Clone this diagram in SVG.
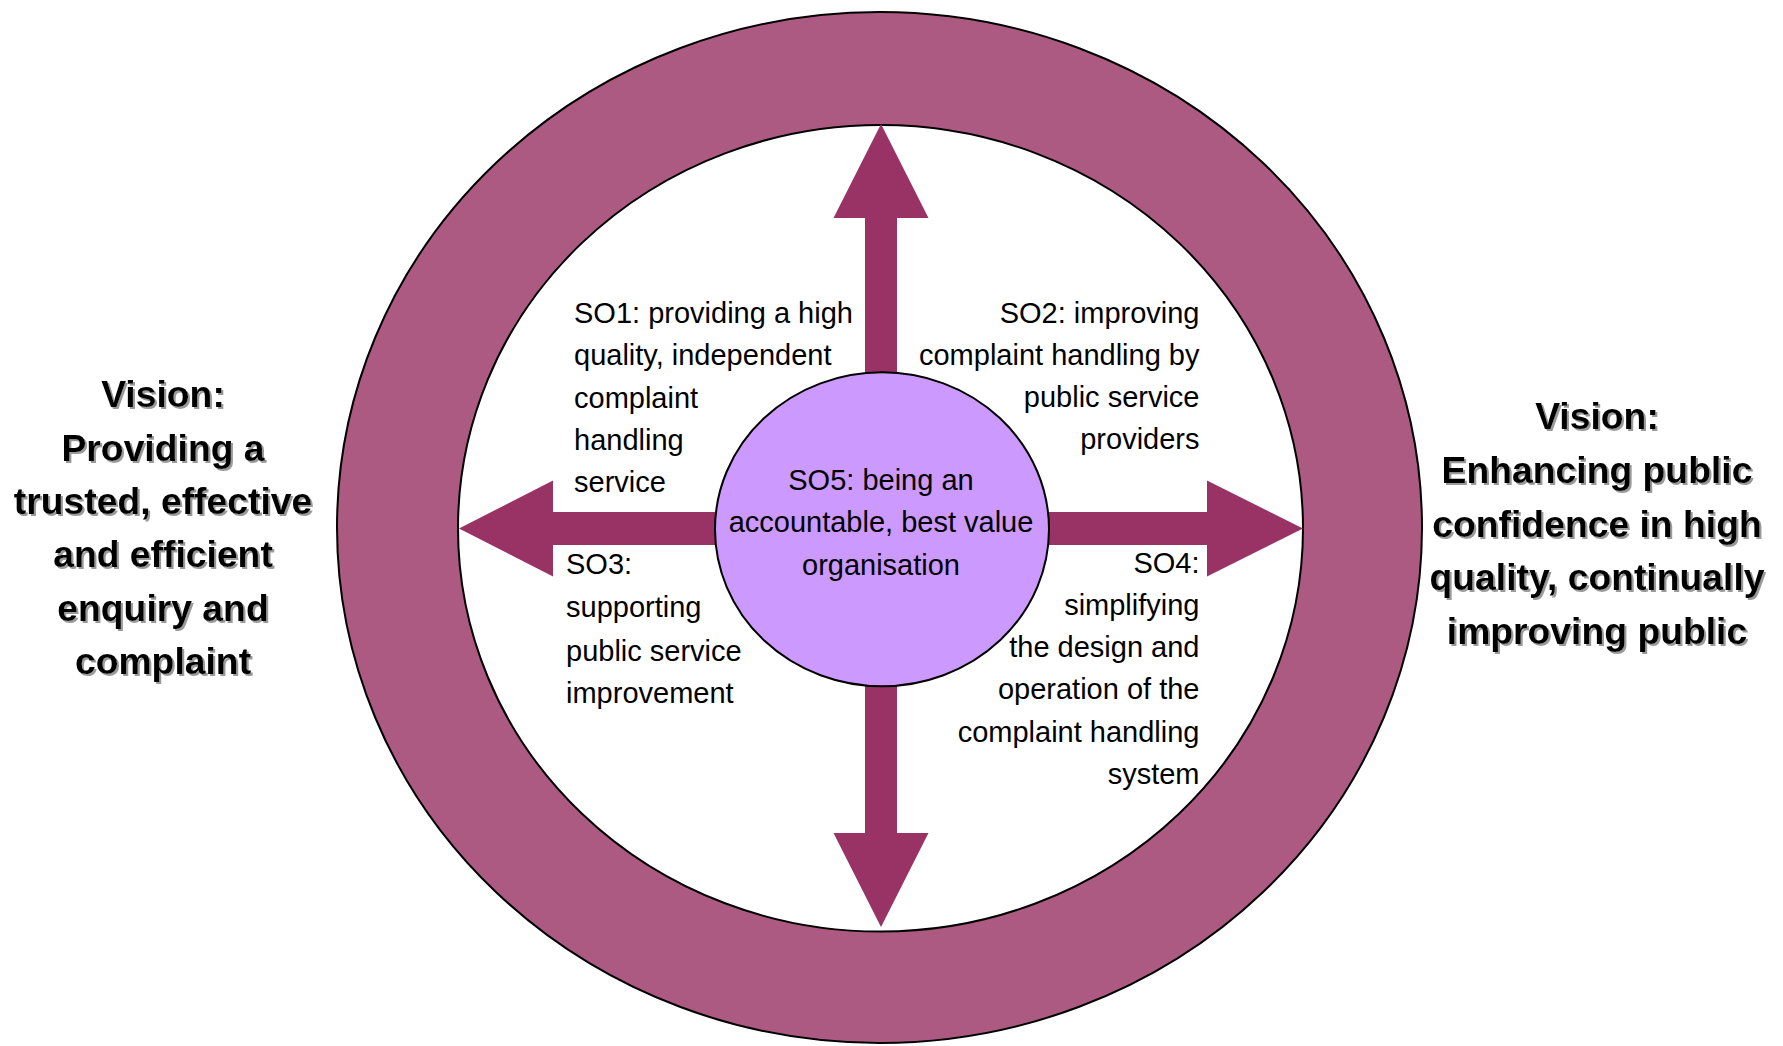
<svg xmlns="http://www.w3.org/2000/svg" width="1783" height="1046" viewBox="0 0 1783 1046">
  <style>
    .so { font-family: "Liberation Sans", Arial, sans-serif; font-size: 29px; fill: #000; }
    .mid { text-anchor: middle; }
    .end { text-anchor: end; }
    .vision { font-family: "Liberation Sans", Arial, sans-serif; font-size: 37.3px; font-weight: bold; fill: #000; text-anchor: middle; }
    .ring { fill: #AD5A82; stroke: #000; stroke-width: 2; }
    .inner { fill: #FFFFFF; stroke: #000; stroke-width: 2; }
    .arrow { fill: #993366; stroke: none; }
    .core { fill: #CC99FF; stroke: #000; stroke-width: 2; }
  </style>
  <defs>
    <filter id="shadow" x="-10%" y="-10%" width="120%" height="130%">
      <feDropShadow dx="2" dy="2" stdDeviation="0.6" flood-color="#9a9a9a" flood-opacity="1"/>
    </filter>
  </defs>

  <rect width="1783" height="1046" fill="#FFFFFF"/>

  <!-- outer ring with white interior -->
  <g id="ring">
    <ellipse class="ring" cx="879.5" cy="527.5" rx="542.5" ry="515.5"/>
    <ellipse class="inner" cx="880.5" cy="528.3" rx="422.5" ry="403.3"/>
  </g>

  <!-- double-headed arrows radiating from the centre -->
  <g id="connectors">
    <polygon class="arrow" points="881,124 928.5,218 897,218 897,833 928.5,833 881,927 833.5,833 865,833 865,218 833.5,218"/>
    <polygon class="arrow" points="459,528.5 553,480.5 553,512 1207,512 1207,480.5 1303,528.5 1207,576.5 1207,545 553,545 553,576.5"/>
  </g>

  <!-- centre objective -->
  <g id="so5">
    <ellipse class="core" cx="882" cy="529.3" rx="167" ry="157"/>
    <text class="so mid" x="881" y="490">SO5: being an</text>
    <text class="so mid" x="881" y="532">accountable, best value</text>
    <text class="so mid" x="881" y="575">organisation</text>
  </g>

  <g id="so1">
    <text class="so" x="574" y="323">SO1: providing a high</text>
    <text class="so" x="574" y="365">quality, independent</text>
    <text class="so" x="574" y="408">complaint</text>
    <text class="so" x="574" y="450">handling</text>
    <text class="so" x="574" y="492">service</text>
  </g>

  <g id="so2">
    <text class="so end" x="1199.5" y="323">SO2: improving</text>
    <text class="so end" x="1199.5" y="365">complaint handling by</text>
    <text class="so end" x="1199.5" y="407">public service</text>
    <text class="so end" x="1199.5" y="449">providers</text>
  </g>

  <g id="so3">
    <text class="so" x="566" y="574">SO3:</text>
    <text class="so" x="566" y="617">supporting</text>
    <text class="so" x="566" y="661">public service</text>
    <text class="so" x="566" y="703">improvement</text>
  </g>

  <g id="so4">
    <text class="so end" x="1199.5" y="573">SO4:</text>
    <text class="so end" x="1199.5" y="615">simplifying</text>
    <text class="so end" x="1199.5" y="657">the design and</text>
    <text class="so end" x="1199.5" y="699">operation of the</text>
    <text class="so end" x="1199.5" y="742">complaint handling</text>
    <text class="so end" x="1199.5" y="784">system</text>
  </g>

  <!-- vision statements either side of the ring -->
  <g id="vision-left" filter="url(#shadow)">
    <text class="vision" x="163" y="407">Vision:</text>
    <text class="vision" x="163" y="460.5">Providing a</text>
    <text class="vision" x="163" y="514">trusted, effective</text>
    <text class="vision" x="163" y="567">and efficient</text>
    <text class="vision" x="163" y="620.5">enquiry and</text>
    <text class="vision" x="163" y="674">complaint</text>
  </g>

  <g id="vision-right" filter="url(#shadow)">
    <text class="vision" x="1597" y="429">Vision:</text>
    <text class="vision" x="1597" y="483">Enhancing public</text>
    <text class="vision" x="1597" y="537">confidence in high</text>
    <text class="vision" x="1597" y="590">quality, continually</text>
    <text class="vision" x="1597" y="644">improving public</text>
  </g>
</svg>
